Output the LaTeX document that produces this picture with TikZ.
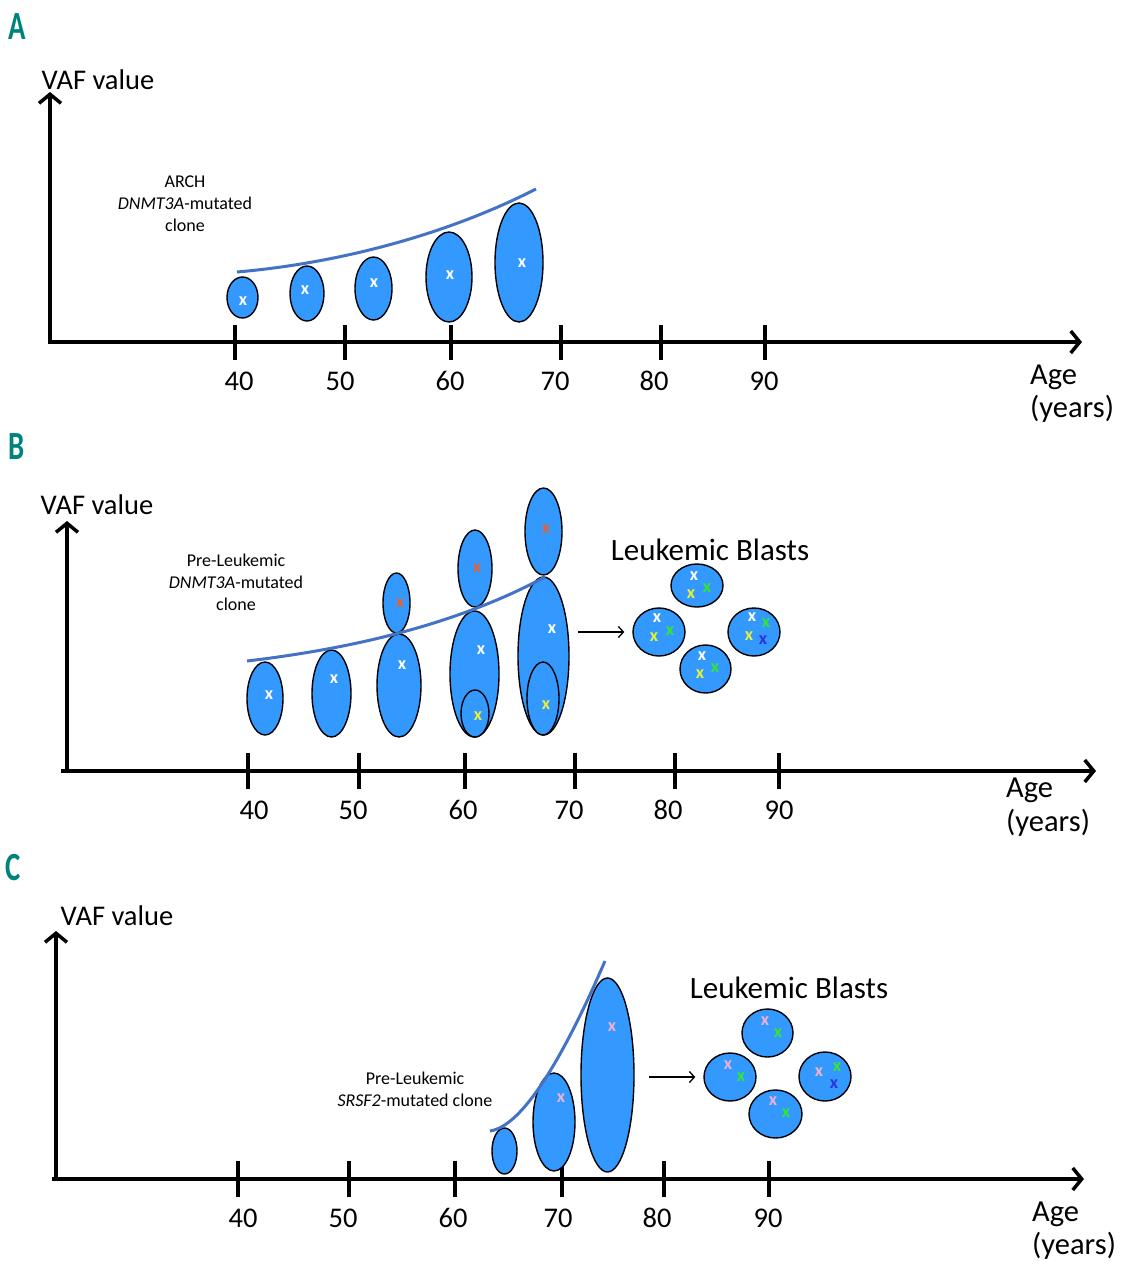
\documentclass[tikz,border=0pt]{standalone}
\usepackage{fontspec}
\setmainfont{Carlito}
\usetikzlibrary{shapes.geometric,arrows.meta}
\definecolor{clonefill}{HTML}{3399FF}
\definecolor{curveblue}{HTML}{4472C4}
\definecolor{panelteal}{HTML}{00827F}
\definecolor{mkorange}{HTML}{E8602C}
\definecolor{mkyellow}{HTML}{E6F03C}
\definecolor{mkgreen}{HTML}{33E633}
\definecolor{mkblue}{HTML}{3030E0}
\definecolor{mkpink}{HTML}{F0B0D0}
\tikzset{
  clone/.style 2 args={ellipse, draw=black, line width=1.4pt, fill=clonefill, inner sep=0pt, minimum width=#1, minimum height=#2},
  mk/.style={font=\fontsize{18}{18}\selectfont\bfseries, inner sep=0pt, text=#1},
  axisline/.style={line width=4pt, -{Straight Barb[length=9pt,width=22pt,line width=3.5pt]}},
  tickline/.style={line width=4pt},
  ticklbl/.style={font=\fontsize{28.5}{28.5}\selectfont, inner sep=0pt},
  biglbl/.style={font=\fontsize{28.5}{28.5}\selectfont, inner sep=0pt},
  agelbl/.style={font=\fontsize{30.5}{30.5}\selectfont, inner sep=0pt, anchor=west},
  sublbl/.style={font=\fontsize{18}{22}\selectfont, inner sep=0pt, align=center},
  blastlbl/.style={font=\fontsize{31}{31}\selectfont, inner sep=0pt},
  panel/.style={font=\fontsize{40}{40}\selectfont\bfseries, text=panelteal, inner sep=0pt},
  growth/.style={draw=curveblue, line width=3pt},
  thinarrow/.style={line width=1.3pt, -{Straight Barb[length=5pt,width=11pt,line width=1.3pt]}},
}
\begin{document}
\begin{tikzpicture}[x=1pt,y=-1pt]
\useasboundingbox (0,0) rectangle (1134,1280);

% ================= Panel A =================
\node[panel] (pA) at (17,27) {\scalebox{0.72}[1]{A}};
\coordinate (Ao) at (50,342);
\coordinate (Ay) at (50,92);
\coordinate (Ax) at (1082,342);
\draw[axisline] ([yshift=2pt]Ao) -- (Ay);
\draw[axisline] ([xshift=-2pt]Ao) -- (Ax);
\node[biglbl] (Avaf) at (98,80) {VAF value};
\foreach \x/\lx/\t in {235/239/40, 345/340/50, 451/450/60, 561/555/70, 661/654/80, 765/764/90}{
  \draw[tickline] (\x,325) -- (\x,360);
  \node[ticklbl] at (\lx,381) {\t};
}
\node[agelbl] (Aage) at (1030,377) {Age};
\node[agelbl] (Ayrs) at (1030,409) {(years)};
\node[sublbl] (Asub) at (185,204) {ARCH\\\textit{DNMT3A}-mutated\\clone};

\node[clone={31pt}{41pt}] (a1) at (242.5,297.5) {};
\node[clone={34pt}{55pt}] (a2) at (307,293.5) {};
\node[clone={37pt}{63pt}] (a3) at (373.5,288.5) {};
\node[clone={46pt}{90pt}] (a4) at (449,277) {};
\node[clone={48pt}{119pt}] (a5) at (519,262.5) {};
\node[mk=white] (a1x) at (243,301) {x};
\node[mk=white] (a2x) at (305,290) {x};
\node[mk=white] (a3x) at (374,283) {x};
\node[mk=white] (a4x) at (450,275) {x};
\node[mk=white] (a5x) at (522,263) {x};
\draw[growth] (237,272) .. controls (330,264) and (440,238) .. (536,189);

% ================= Panel B =================
\node[panel] (pB) at (17,447) {\scalebox{0.72}[1]{B}};
\coordinate (Bo) at (67,771);
\coordinate (By) at (67,521);
\coordinate (Bx) at (1096,771);
\draw[axisline] ([yshift=2pt]Bo) -- (By);
\draw[axisline] ([xshift=-6pt]Bo) -- (Bx);
\node[biglbl] (Bvaf) at (97,505) {VAF value};
\foreach \x/\lx/\t in {248/254/40, 359/353/50, 465/463/60, 575/569/70, 675/668/80, 779/779/90}{
  \draw[tickline] (\x,753) -- (\x,789);
  \node[ticklbl] at (\lx,810) {\t};
}
\node[agelbl] (Bage) at (1006,790) {Age};
\node[agelbl] (Byrs) at (1006,823) {(years)};
\node[sublbl] (Bsub) at (236,582) {Pre-Leukemic\\\textit{DNMT3A}-mutated\\clone};

\node[clone={36pt}{73pt}] (b1) at (265,698.5) {};
\node[clone={39pt}{87pt}] (b2) at (331.5,693.5) {};
\node[clone={44pt}{103pt}] (b3) at (399,685.5) {};
\node[clone={27pt}{60pt}] (b3t) at (396.5,603) {};
\node[clone={49pt}{126pt}] (b4) at (474.5,674) {};
\node[clone={28pt}{47pt}] (b4i) at (475,713.5) {};
\node[clone={34pt}{77pt}] (b4t) at (475,568.5) {};
\node[clone={51pt}{158pt}] (b5) at (543.5,656) {};
\node[clone={32pt}{73pt}] (b5i) at (543,698.5) {};
\node[clone={37pt}{87pt}] (b5t) at (543.5,531.5) {};
\node[mk=white] (b1x) at (269,695) {x};
\node[mk=white] (b2x) at (334,679) {x};
\node[mk=mkorange] (b3tx) at (400,603) {x};
\node[mk=white] (b3x) at (402,665) {x};
\node[mk=mkorange] (b4tx) at (477,568) {x};
\node[mk=white] (b4x) at (481,650) {x};
\node[mk=mkyellow] (b4ix) at (478,716) {x};
\node[mk=mkorange] (b5tx) at (546,529) {x};
\node[mk=white] (b5x) at (552,629) {x};
\node[mk=mkyellow] (b5ix) at (546,705) {x};
\draw[growth] (247,661) .. controls (340,650) and (450,628) .. (545,577);

\node[blastlbl] (Bbl) at (710,550) {Leukemic Blasts};
\node[clone={52pt}{43pt}] (bt) at (697,585.5) {};
\node[clone={52pt}{48pt}] (bl) at (659,632) {};
\node[clone={52pt}{48pt}] (br) at (754,632) {};
\node[clone={51pt}{48pt}] (bb) at (705.5,669) {};
\node[mk=white] at (694,576) {x};
\node[mk=mkyellow] at (691,594) {x};
\node[mk=mkgreen] at (707,588) {x};
\node[mk=white] at (657,618) {x};
\node[mk=mkyellow] at (654,637) {x};
\node[mk=mkgreen] at (670,631) {x};
\node[mk=white] at (752,617) {x};
\node[mk=mkgreen] at (766,623) {x};
\node[mk=mkyellow] at (749,636) {x};
\node[mk=mkblue] at (763,640) {x};
\node[mk=white] at (702,656) {x};
\node[mk=mkyellow] at (700,674) {x};
\node[mk=mkgreen] at (715,668) {x};
\coordinate (Barr) at (578,632);
\draw[thinarrow, shorten >=8pt] (Barr) -- (bl.west);

% ================= Panel C =================
\node[panel] (pC) at (13,868) {\scalebox{0.72}[1]{C}};
\coordinate (Co) at (56,1179);
\coordinate (Cy) at (56,931);
\coordinate (Cx) at (1084,1179);
\draw[axisline] ([yshift=2pt]Co) -- (Cy);
\draw[axisline] ([xshift=-4pt]Co) -- (Cx);
\node[biglbl] (Cvaf) at (117,916) {VAF value};
\foreach \x/\lx/\t in {238/243/40, 349/343/50, 455/453/60, 562/558/70, 664/657/80, 769/768/90}{
  \draw[tickline] (\x,1161) -- (\x,1197);
  \node[ticklbl] at (\lx,1218) {\t};
}
\node[agelbl] (Cage) at (1032,1214) {Age};
\node[agelbl] (Cyrs) at (1032,1246) {(years)};
\node[sublbl] (Csub) at (415,1089) {Pre-Leukemic\\\textit{SRSF2}-mutated clone};

\node[clone={25pt}{46pt}] (c1) at (504.5,1151) {};
\node[clone={42pt}{98pt}] (c2) at (554,1122) {};
\node[clone={53pt}{194pt}] (c3) at (607.5,1075) {};
\node[mk=mkpink] (c2x) at (561,1098) {x};
\node[mk=mkpink] (c3x) at (612,1027) {x};
\draw[growth] (490,1131) .. controls (510,1128) and (545,1100) .. (605,961);

\node[blastlbl] (Cbl) at (789,988) {Leukemic Blasts};
\node[clone={51pt}{48pt}] (ct) at (767.5,1033) {};
\node[clone={52pt}{48pt}] (cl) at (730,1077) {};
\node[clone={52pt}{49pt}] (cr) at (825,1076.5) {};
\node[clone={53pt}{48pt}] (cb) at (775.5,1114) {};
\node[mk=mkpink] at (765,1021) {x};
\node[mk=mkgreen] at (778,1033) {x};
\node[mk=mkpink] at (728,1065) {x};
\node[mk=mkgreen] at (741,1077) {x};
\node[mk=mkpink] at (819,1072) {x};
\node[mk=mkgreen] at (837,1067) {x};
\node[mk=mkblue] at (834,1084) {x};
\node[mk=mkpink] at (773,1101) {x};
\node[mk=mkgreen] at (786,1113) {x};
\coordinate (Carr) at (649,1077);
\draw[thinarrow, shorten >=8pt] (Carr) -- (cl.west);
\end{tikzpicture}
\end{document}
